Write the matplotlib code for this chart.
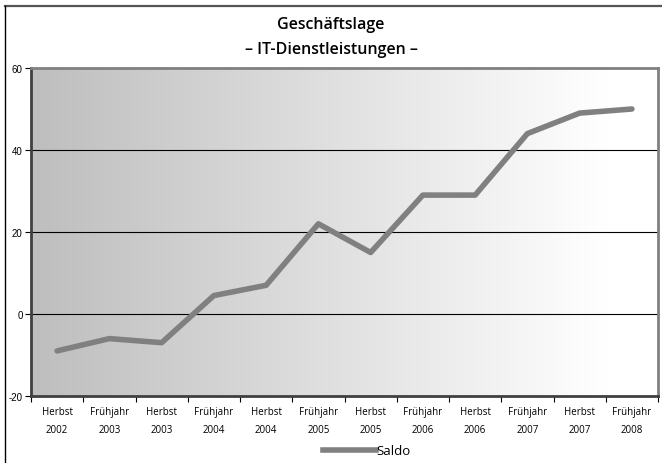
import matplotlib
matplotlib.use("Agg")
import matplotlib.pyplot as plt
import numpy as np
from matplotlib.lines import Line2D

categories = ["Herbst\n2002", "Frühjahr\n2003", "Herbst\n2003", "Frühjahr\n2004",
              "Herbst\n2004", "Frühjahr\n2005", "Herbst\n2005", "Frühjahr\n2006",
              "Herbst\n2006", "Frühjahr\n2007", "Herbst\n2007", "Frühjahr\n2008"]
saldo = [-9, -6, -7, 4.5, 7, 22, 15, 29, 29, 44, 49, 50]
yticks = [-20, 0, 20, 40, 60]

W, H = 662, 464
fig = plt.figure(figsize=(W/100, H/100), dpi=100)
fig.patch.set_facecolor("white")

# outer frame (only top and left visible, cropped at right/bottom)
fig.add_artist(Line2D([5/W, 1.0], [1-7/H, 1-7/H], transform=fig.transFigure,
                      color="#555555", linewidth=1.6))
fig.add_artist(Line2D([5/W, 5/W], [0.0, 1-7/H], transform=fig.transFigure,
                      color="black", linewidth=1.0))

left, right, top, bottom = 31, 658, 69, 397
ax = fig.add_axes([left/W, 1-bottom/H, (right-left)/W, (bottom-top)/H])

n = len(categories)
ax.set_xlim(0, n)
ax.set_ylim(-20, 60)

# gradient background
grad = np.linspace(0, 1, 256)
vals = np.clip(grad / 0.92, 0, 1)
g0, g1 = 0.745, 1.0
img = (g0 + (g1 - g0) * vals)[None, :]
rgb = np.dstack([img, img, img])
ax.imshow(rgb, extent=[0, n, -20, 60], aspect="auto", zorder=0, interpolation="bilinear")

for y in [0, 20, 40]:
    ax.axhline(y, color="black", linewidth=0.8, zorder=1)

x = np.arange(n) + 0.5
ax.plot(x, saldo, color="#808080", linewidth=4, solid_capstyle="round",
        solid_joinstyle="round", zorder=3)

ax.set_yticks(yticks)
ax.set_yticklabels([str(v) for v in yticks], fontsize=7, family="Liberation Sans")
ax.set_xticks(np.arange(n + 1), minor=False)
ax.set_xticklabels([])
ax.set_xticks(x, minor=True)
ax.set_xticklabels(categories, minor=True, fontsize=7, family="Open Sans", linespacing=1.9)
ax.tick_params(axis="x", which="minor", length=0, pad=7)
ax.tick_params(axis="x", which="major", length=4, direction="out", color="black")
ax.tick_params(axis="y", length=4, direction="out", pad=2)

ax.spines["left"].set_color("#404040")
ax.spines["left"].set_linewidth(2)
ax.spines["bottom"].set_color("#404040")
ax.spines["bottom"].set_linewidth(2)
ax.spines["top"].set_color("#808080")
ax.spines["top"].set_linewidth(2)
ax.spines["right"].set_color("#808080")
ax.spines["right"].set_linewidth(2)

fig.text(0.5, 1-25/H, "Geschäftslage", ha="center", va="center",
         fontsize=11.5, fontweight="semibold", family="Open Sans")
fig.text(0.5, 1-50/H, "– IT-Dienstleistungen –", ha="center", va="center",
         fontsize=11.5, fontweight="semibold", family="Open Sans")

handle = Line2D([], [], color="#808080", linewidth=4)
fig.legend([handle], ["Saldo"], loc="center", bbox_to_anchor=(367/W, 1-452/H),
           frameon=False, prop={"family": "Open Sans", "size": 9.5},
           handlelength=4.0, handletextpad=0.05, borderpad=0, borderaxespad=0)

fig.savefig("out.png", dpi=100)
